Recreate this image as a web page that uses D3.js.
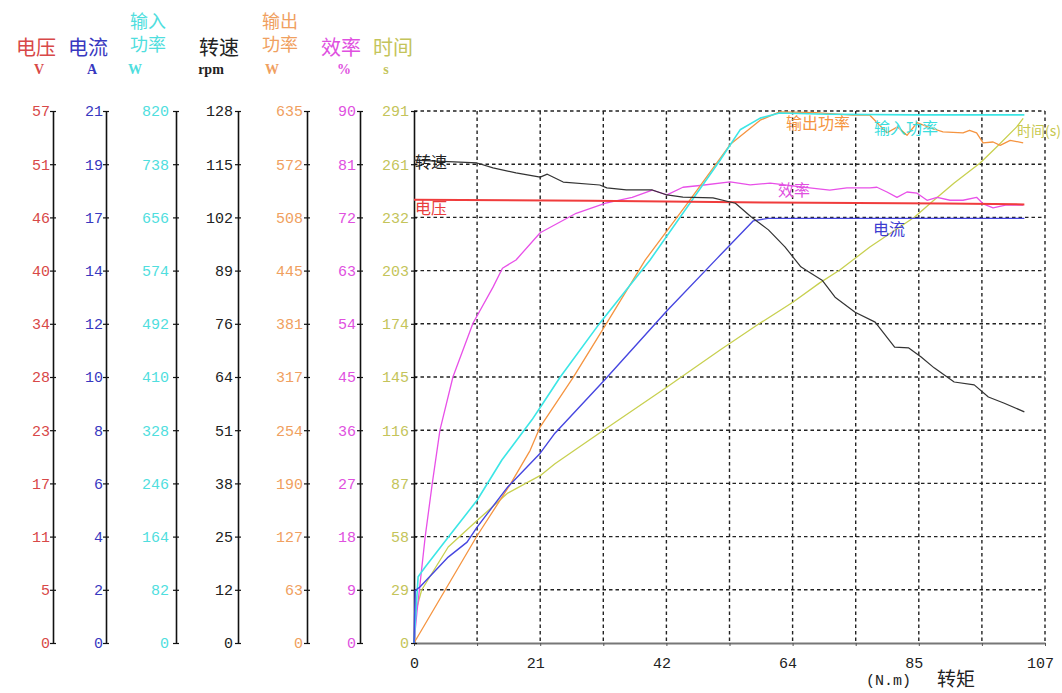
<!DOCTYPE html>
<html>
<head>
<meta charset="utf-8">
<script src="https://cdn.jsdelivr.net/npm/d3@7"></script>
<style>
  body { margin: 0; background: #fff; }
  svg { display: block; }
  .num { font-family: 'Liberation Mono', monospace; font-size: 15px; }
  .cjk { font-family: 'Noto Sans CJK SC', sans-serif; }
</style>
</head>
<body>
<svg id="chart" width="1062" height="693"></svg>
<script>
// Data
const torqueMax = 107;
const torqueLabels = ['0', '21', '42', '64', '85', '107'];

const voltMax = 57.5;
const voltTicks = ['0', '5', '11', '17', '23', '28', '34', '40', '46', '51', '57'];
const currMax = 21.3;
const currTicks = ['0', '2', '4', '6', '8', '10', '12', '14', '17', '19', '21'];
const pinMax = 820;
const pinTicks = ['0', '82', '164', '246', '328', '410', '492', '574', '656', '738', '820'];
const rpmMax = 128;
const rpmTicks = ['0', '12', '25', '38', '51', '64', '76', '89', '102', '115', '128'];
const poutMax = 635;
const poutTicks = ['0', '63', '127', '190', '254', '317', '381', '445', '508', '572', '635'];
const effMax = 90;
const effTicks = ['0', '9', '18', '27', '36', '45', '54', '63', '72', '81', '90'];
const timeMax = 291;
const timeTicks = ['0', '29', '58', '87', '116', '145', '174', '203', '232', '261', '291'];

// [torque, value]
const voltage = [[0, 47.9], [30, 47.8], [60, 47.6], [90, 47.5], [103.5, 47.4]];
const current = [[0, 0], [0.2, 2.1], [1.0, 2.24], [5.8, 3.44], [9.0, 4.04], [10.7, 4.64],
  [15.9, 6.25], [21.4, 7.6], [23.9, 8.4], [32.2, 10.5], [42.9, 13.3], [51.4, 15.4],
  [57.5, 16.9], [60, 17.0], [80, 17.0], [103.5, 17.0]];
const powerIn = [[0, 0], [0.7, 102], [1.9, 117], [5.8, 163], [10.7, 220], [14.9, 282],
  [20, 344], [21.9, 370], [24.8, 410], [31.5, 493], [40, 590], [51.9, 744], [55.3, 791],
  [58.7, 809], [62, 817], [70, 815], [85, 814], [103.5, 814]];
const powerOut = [[0, 0], [10.7, 128], [16.3, 189], [19.7, 230], [21.4, 258], [27, 317],
  [32.7, 382], [39.2, 457], [46.8, 529], [53.6, 595], [58.7, 624], [62, 634], [68, 633],
  [74.4, 630], [77.3, 630], [80.2, 609], [82, 616], [83.6, 606], [85.3, 621], [87.5, 615],
  [89.7, 610], [93.1, 609], [94.2, 612], [95.4, 609], [96.5, 597], [98.2, 598], [99.4, 594],
  [101.1, 600], [103.3, 597]];
const speed = [[0, 116.2], [10.7, 115.5], [13.4, 114.3], [17.3, 113.1], [21.4, 112.1],
  [22.6, 112.8], [25.3, 110.9], [31.5, 110.2], [32.7, 109.5], [36, 109.0], [40.4, 109.0],
  [42.9, 107.8], [45.6, 107.3], [50.7, 107.1], [53.6, 106.1], [54.5, 105.8], [57.2, 102.5],
  [60.1, 99.4], [62.9, 95.3], [65.6, 90.5], [66.9, 89.3], [69.2, 87.3], [71.4, 83.2],
  [74.8, 79.6], [78.2, 77.2], [81.5, 71.2], [83.9, 71.0], [86, 68.8], [88.2, 66.2],
  [91.6, 62.8], [95, 62.1], [97.4, 59.2], [100.1, 57.7], [103.5, 55.6]];
const efficiency = [[0, 0], [0.5, 5.2], [1.9, 18], [3.1, 27], [4.4, 36], [6.6, 45],
  [10, 54.1], [13.4, 60.2], [15, 63.4], [17.3, 64.8], [21.4, 69.4], [27.5, 72.7],
  [32.5, 74.4], [37, 75.4], [40.4, 76.6], [42.9, 75.8], [45.6, 77.1], [48.5, 77.4],
  [53.6, 78.0], [57, 77.5], [60.4, 77.8], [67.1, 77.0], [70.5, 76.6], [73.4, 77.0],
  [77.3, 77.0], [78.5, 77.1], [80.2, 76.3], [81.9, 75.4], [83.6, 76.3], [85.3, 76.1],
  [87, 74.9], [88.7, 75.4], [90.9, 74.9], [93.1, 74.9], [95.4, 75.4], [96.5, 74.3],
  [98.2, 73.6], [100.5, 74.1], [103.3, 74.1]];
const elapsed = [[0, 0], [0.2, 16], [1.3, 29], [5.8, 52.5], [10.7, 67], [15.9, 82],
  [21.6, 92], [23.9, 98], [32.2, 116.5], [42.9, 140], [51.9, 160.3], [58.7, 175],
  [64.3, 186.5], [68.8, 197], [72.2, 204], [77.3, 216.6], [84.9, 233], [88.2, 242.3],
  [91.6, 251.6], [96, 262.6], [98.8, 271.3], [102.2, 282.3], [103.3, 287]];

// Layout
const yTop = 111;
const yBot = 643;
const xL = 414;
const xR = 1045;

const axes = [
  { title: ['电压'], unit: 'V', max: voltMax, ticks: voltTicks, pts: voltage, x: 53, pad: 3, titleX: 56, unitX: 39,
    tickColor: '#d84848', lineColor: '#f03c3c', width: 2 },
  { title: ['电流'], unit: 'A', max: currMax, ticks: currTicks, pts: current, x: 106, pad: 3, titleX: 108, unitX: 92,
    tickColor: '#3838c0', lineColor: '#4646e0', width: 1.4 },
  { title: ['输入', '功率'], unit: 'W', max: pinMax, ticks: pinTicks, pts: powerIn, x: 176, pad: 7, titleX: 166, unitX: 135,
    tickColor: '#50dede', lineColor: '#3ce6e6', width: 1.6 },
  { title: ['转速'], unit: 'rpm', max: rpmMax, ticks: rpmTicks, pts: speed, x: 238, pad: 5, titleX: 239, unitX: 211,
    tickColor: '#222', lineColor: '#333', width: 1.2 },
  { title: ['输出', '功率'], unit: 'W', max: poutMax, ticks: poutTicks, pts: powerOut, x: 307, pad: 4, titleX: 298, unitX: 272,
    tickColor: '#f0a060', lineColor: '#f59440', width: 1.3 },
  { title: ['效率'], unit: '%', max: effMax, ticks: effTicks, pts: efficiency, x: 360, pad: 4, titleX: 361, unitX: 344,
    tickColor: '#e050e0', lineColor: '#e850e8', width: 1.3 },
  { title: ['时间'], unit: 's', max: timeMax, ticks: timeTicks, pts: elapsed, x: 414, pad: 5, titleX: 413, unitX: 386,
    tickColor: '#c4c45a', lineColor: '#c8d050', width: 1.3 },
];

const svg = d3.select('#chart');
const xScale = d3.scaleLinear([0, torqueMax], [xL, xR]);
const fracY = d3.scaleLinear([0, 10], [yBot, yTop]);

// grid
const grid = svg.append('g').attr('stroke', '#222').attr('stroke-width', 1.4).attr('stroke-dasharray', '3.5,3');
grid.selectAll('line.h')
  .data(d3.range(1, 11))
  .join('line')
  .attr('x1', xL)
  .attr('x2', xR)
  .attr('y1', (d) => fracY(d))
  .attr('y2', (d) => fracY(d));
grid.selectAll('line.v')
  .data(d3.range(1, 11))
  .join('line')
  .attr('x1', (d) => xScale(torqueMax * d / 10))
  .attr('x2', (d) => xScale(torqueMax * d / 10))
  .attr('y1', yTop)
  .attr('y2', yBot);

// x axis
const xAxis = d3.axisBottom(xScale)
  .tickValues(d3.range(11).map((i) => torqueMax * i / 10))
  .tickFormat((d, i) => (i % 2 === 0 ? torqueLabels[i / 2] : ''))
  .tickSizeInner(3)
  .tickSizeOuter(0)
  .tickPadding(11);
const gx = svg.append('g').attr('transform', `translate(0,${yBot})`).call(xAxis);
gx.select('.domain').attr('stroke', '#777').attr('stroke-width', 2);
gx.selectAll('.tick line').attr('stroke', '#555');
gx.selectAll('.tick text')
  .attr('class', 'num')
  .attr('fill', '#222')
  .attr('dx', (d, i) => (i === 0 ? 0 : -5))
  .style('font-size', '15px');

svg.append('text').attr('class', 'num').attr('x', 866).attr('y', 685).attr('fill', '#222')
  .style('font-size', '15px').text('(N.m)');
svg.append('text').attr('class', 'cjk').attr('x', 937).attr('y', 686).attr('fill', '#222')
  .style('font-size', '19px').text('转矩');

// left axes + headers
axes.forEach((a) => {
  const s = d3.scaleLinear([0, a.max], [yBot, yTop]);
  const axis = d3.axisLeft(s)
    .tickValues(d3.range(11).map((i) => a.max * i / 10))
    .tickFormat((d, i) => a.ticks[i])
    .tickSizeInner(3)
    .tickSizeOuter(0)
    .tickPadding(a.pad - 3);
  const g = svg.append('g').attr('transform', `translate(${a.x},0)`).call(axis);
  g.select('.domain').attr('stroke', '#111').attr('stroke-width', 1.6);
  g.selectAll('.tick line').attr('x1', 3).attr('stroke', '#111').attr('stroke-width', 1.2);
  g.selectAll('.tick text').attr('class', 'num').attr('fill', a.tickColor).style('font-size', '15px');

  // one text per header line
  a.title.forEach((line, i) => {
    svg.append('text')
      .attr('class', 'cjk')
      .attr('text-anchor', 'end')
      .attr('fill', a.tickColor)
      .attr('x', a.titleX)
      .attr('y', a.title.length === 1 ? 55 : 28 + i * 23)
      .style('font-size', a.title.length === 1 ? '20px' : '18px')
      .text(line);
  });
  svg.append('text')
    .attr('x', a.unitX)
    .attr('y', 74)
    .attr('text-anchor', 'middle')
    .attr('fill', a.tickColor)
    .style('font-family', 'Liberation Serif, serif')
    .style('font-weight', 'bold')
    .style('font-size', '14px')
    .text(a.unit);
  a.scale = s;
});

// curves
const order = [6, 5, 4, 2, 1, 0, 3];
order.forEach((k) => {
  const a = axes[k];
  const line = d3.line()
    .x((d) => xScale(d[0]))
    .y((d) => a.scale(d[1]));
  svg.append('path')
    .datum(a.pts)
    .attr('fill', 'none')
    .attr('stroke', a.lineColor)
    .attr('stroke-width', a.width)
    .attr('stroke-linejoin', 'round')
    .attr('d', line);
});

// curve names inside the plot
const names = [
  { text: '转速', color: '#222', x: 415, y: 168, size: 16 },
  { text: '电压', color: '#e83c3c', x: 415, y: 214, size: 16 },
  { text: '输出功率', color: '#f59440', x: 786, y: 129, size: 16 },
  { text: '输入功率', color: '#3cdede', x: 874, y: 134, size: 16 },
  { text: '时间(s)', color: '#c8c850', x: 1017, y: 136, size: 14 },
  { text: '效率', color: '#e050e0', x: 778, y: 196, size: 16 },
  { text: '电流', color: '#3c3cd0', x: 873, y: 235, size: 16 },
];
svg.append('g')
  .selectAll('text')
  .data(names)
  .join('text')
  .attr('class', 'cjk')
  .attr('x', (d) => d.x)
  .attr('y', (d) => d.y)
  .attr('fill', (d) => d.color)
  .style('font-size', (d) => `${d.size}px`)
  .text((d) => d.text);
</script>
</body>
</html>
